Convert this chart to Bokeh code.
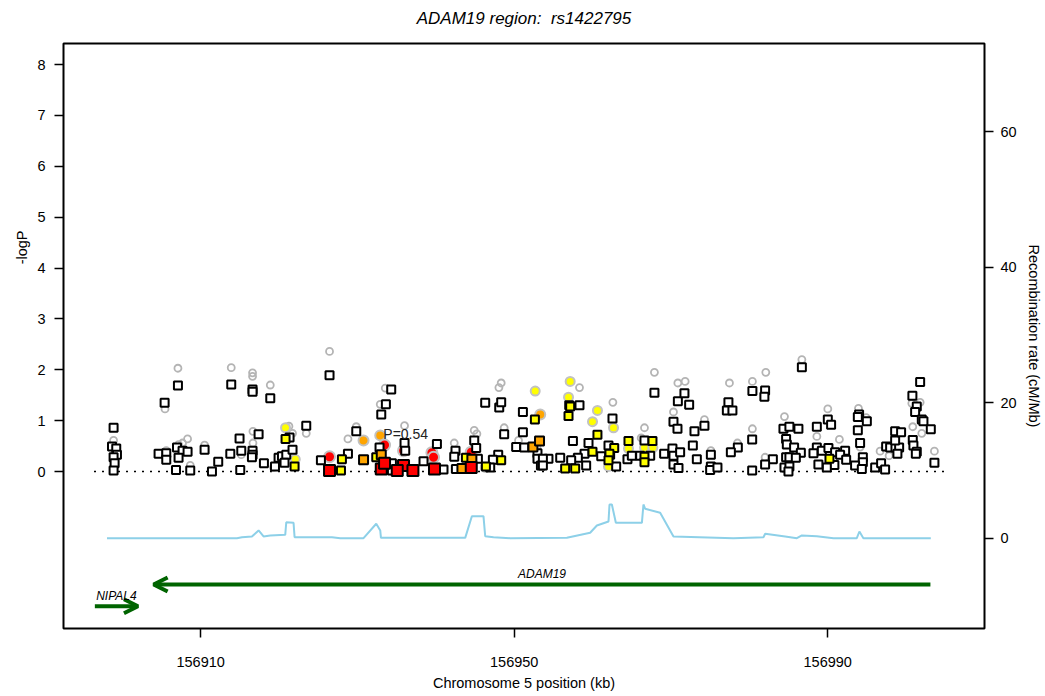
import math
from bokeh.plotting import figure
from bokeh.models import (Range1d, LinearAxis, FixedTicker, BasicTickFormatter,
                          Label, Arrow, OpenHead, Title)
from bokeh.embed import file_html
from bokeh.resources import INLINE

FONT = "Liberation Sans"

# ---------------- data ----------------
title_text = "ADAM19 region:\u00a0 rs1422795"
ref_snp_pos = 156933.3
ref_snp_p = 0.54

x_ticks = [156910, 156950, 156990]
y_ticks = [0, 1, 2, 3, 4, 5, 6, 7, 8]
recomb_ticks = [0, 20, 40, 60]

# SNPs of the second set (squares), by LD class
sq_white_pos = [
    156898.89, 156898.69, 156899.23, 156899.32, 156898.89, 156899.02, 156898.89, 156905.40, 156907.10, 156904.63,
    156905.61, 156905.61, 156906.98, 156907.69, 156908.33, 156907.18, 156906.85, 156908.67, 156910.50, 156912.24,
    156911.44, 156913.78, 156913.90, 156914.96, 156915.18, 156915.05, 156916.62, 156916.62, 156918.88, 156917.39,
    156916.62, 156916.62, 156916.54, 156918.07, 156919.48, 156919.94, 156920.37, 156920.92, 156921.72, 156921.34,
    156923.47, 156920.70,
    156926.44, 156934.31, 156933.63, 156933.04, 156929.85, 156925.34, 156928.79, 156932.82, 156936.01, 156936.10,
    156940.14, 156938.43, 156940.98, 156934.40, 156934.40, 156942.51, 156942.35, 156944.90, 156945.15, 156946.30,
    156948.09, 156948.34, 156948.72, 156947.96, 156947.28, 156945.37, 156946.94, 156951.11, 156951.11, 156950.25,
    156951.28, 156952.97, 156952.97, 156953.41, 156954.37, 156942.56,
    156957.02, 156958.33, 156962.54, 156957.49, 156959.48, 156958.97, 156958.12, 156955.87, 156953.66, 156953.66,
    156957.27, 156959.18, 156961.10, 156962.03, 156962.24, 156963.01, 156964.45, 156965.01, 156966.07, 156966.62,
    156967.35, 156967.89, 156969.13, 156970.19, 156970.32, 156971.17, 156970.32, 156970.96, 156970.32, 156970.83,
    156970.88, 156971.72, 156972.32, 156973.00, 156972.79, 156973.30, 156974.27, 156975.09, 156975.09, 156975.00,
    156975.93, 156977.33, 156977.13, 156977.84, 156978.53, 156977.64, 156980.39, 156982.01, 156981.92, 156980.36,
    156980.36, 156983.00, 156982.01, 156984.35, 156984.69, 156984.78, 156984.69, 156984.48,
    156986.70, 156985.11, 156986.26, 156985.71, 156986.57, 156985.11, 156985.93, 156985.11, 156984.99, 156988.61,
    156990.01, 156990.43, 156988.61, 156988.18, 156989.25, 156990.09, 156990.94, 156992.22, 156991.58, 156992.35,
    156990.85, 156989.88, 156988.81, 156994.00, 156993.84, 156994.99, 156993.84, 156994.13, 156994.48, 156994.48,
    156993.49, 156994.35, 156996.05, 156996.81, 156997.32, 156997.45, 156997.96, 156998.64, 156999.11, 156998.60,
    156998.60, 156999.36, 156998.89, 157000.80, 157001.36, 157001.15, 157001.79, 157002.00, 157002.21, 157003.15,
    157000.85, 157000.93, 157001.36, 157001.24, 157003.61]
sq_white_logp = [
    0.86, 0.49, 0.45, 0.33, 0.28, 0.16, 0.02, 1.35, 1.69, 0.35,
    0.36, 0.23, 0.47, 0.41, 0.39, 0.27, 0.03, 0.02, 0.43, 0.19,
    0.00, 0.35, 1.71, 0.65, 0.41, 0.03, 1.61, 1.57, 1.44, 0.73,
    0.41, 0.33, 0.28, 0.16, 0.10, 0.27, 0.30, 0.33, 0.43, 0.67,
    0.90, 0.17,
    1.89, 1.61, 1.32, 1.12, 0.79, 0.22, 0.35, 0.47, 0.56, 0.41,
    0.54, 0.20, 0.04, 0.16, 0.02, 0.41, 0.29, 0.61, 0.46, 1.35,
    1.26, 1.36, 0.73, 0.33, 0.23, 0.25, 0.08, 1.17, 0.77, 0.48,
    0.47, 0.36, 0.25, 0.12, 0.25, 0.05,
    1.30, 1.30, 1.04, 0.60, 0.56, 0.35, 0.27, 0.27, 0.25, 0.12,
    0.22, 0.12, 0.30, 0.51, 0.33, 0.10, 0.24, 0.31, 0.31, 0.61,
    0.31, 1.55, 0.35, 0.45, 0.31, 0.38, 0.14, 0.07, 0.98, 0.84,
    1.38, 1.54, 1.31, 0.79, 0.51, 0.24, 0.90, 0.33, 0.10, 0.03,
    0.08, 1.36, 1.20, 1.20, 0.47, 0.38, 1.58, 1.59, 1.47, 0.63,
    0.02, 0.24, 0.14, 0.84, 0.64, 0.53, 0.28, 0.08,
    2.05, 0.88, 0.84, 0.47, 0.37, 0.28, 0.27, 0.10, 0.00, 0.88,
    1.02, 0.92, 0.47, 0.36, 0.41, 0.46, 0.38, 0.41, 0.33, 0.23,
    0.13, 0.08, 0.14, 1.12, 1.07, 0.99, 0.81, 0.56, 0.28, 0.18,
    0.12, 0.05, 0.08, 0.16, 0.04, 0.49, 0.47, 0.47, 0.47, 0.61,
    0.79, 0.77, 0.35, 1.49, 1.28, 1.17, 1.76, 1.02, 0.99, 0.83,
    0.62, 0.51, 0.39, 0.35, 0.17]

sq_red_pos = [156926.44, 156933.04, 156933.46, 156935.88, 156937.08, 156939.83, 156944.52, 156935.08]
sq_red_logp = [0.02, 0.05, 0.16, 0.12, 0.02, 0.05, 0.08, 0.02]

sq_orange_pos = [156930.78, 156933.04, 156943.33, 156944.60, 156952.39, 156953.23]
sq_orange_logp = [0.23, 0.33, 0.06, 0.24, 0.48, 0.60]

sq_yellow_pos = [156920.83, 156921.98, 156928.02, 156927.90, 156932.40, 156943.84, 156946.39, 156948.34,
                 156952.64, 156957.14, 156956.93, 156960.62, 156959.99, 156962.76, 156962.15, 156964.58,
                 156967.64, 156966.62, 156966.62, 156956.50, 156957.78, 156962.03, 156990.22]
sq_yellow_logp = [0.64, 0.10, 0.24, 0.02, 0.28, 0.27, 0.10, 0.22,
                  1.02, 1.28, 1.09, 0.72, 0.39, 0.46, 0.35, 0.60,
                  0.60, 0.29, 0.18, 0.06, 0.06, 0.22, 0.25]

# SNPs of the first set (circles), by LD class
ci_gray_pos = [
    156898.89, 156907.10, 156905.45, 156913.90, 156916.62, 156916.62, 156918.88, 156908.33, 156907.69, 156907.18,
    156905.61, 156910.50, 156916.67, 156916.67, 156915.18, 156908.67, 156921.26, 156923.47, 156921.72, 156919.30,
    156926.44, 156928.79, 156929.85, 156933.55, 156932.91, 156936.01, 156942.35, 156944.90, 156945.24, 156948.34,
    156948.05, 156948.72, 156950.55, 156952.90, 156958.33, 156962.59, 156967.89, 156970.88, 156971.81, 156970.32,
    156974.27, 156977.46, 156980.39, 156982.10, 156980.39, 156984.48, 156966.62, 156975.09, 156978.48, 156982.01,
    156966.20, 156986.70, 156990.01, 156991.49, 156988.61, 156993.92, 156994.90, 156996.68, 156997.83, 157000.85,
    157002.00, 157001.79, 157000.73, 157003.61, 156994.13]
ci_gray_logp = [
    0.61, 2.03, 1.23, 2.04, 1.94, 1.87, 1.70, 0.64, 0.56, 0.53,
    0.41, 0.52, 0.79, 0.56, 0.33, 0.12, 0.89, 0.75, 0.75, 0.08,
    2.36, 0.64, 0.88, 1.64, 1.32, 0.90, 0.56, 0.81, 0.74, 1.74,
    1.65, 0.86, 0.61, 0.48, 1.65, 1.36, 1.95, 1.74, 1.77, 1.17,
    1.02, 1.74, 1.77, 1.95, 0.84, 1.08, 0.86, 0.41, 0.56, 0.28,
    0.66, 2.20, 1.23, 0.63, 0.69, 1.24, 1.06, 0.40, 0.31, 0.88,
    0.75, 1.36, 1.34, 0.40, 0.48]

ci_red_pos = [156926.44, 156933.46, 156935.88, 156939.50, 156939.71, 156944.52]
ci_red_logp = [0.29, 0.52, 0.41, 0.37, 0.28, 0.38]

ci_orange_pos = [156930.78, 156932.91, 156953.32]
ci_orange_logp = [0.61, 0.71, 1.12]

ci_yellow_pos = [156920.83, 156922.07, 156952.68, 156946.30, 156957.14, 156956.93, 156960.62, 156959.99,
                 156962.67, 156964.58, 156966.62, 156967.69, 156962.03]
ci_yellow_logp = [0.86, 0.24, 1.58, 0.08, 1.77, 1.46, 1.20, 0.98,
                  0.86, 0.45, 0.47, 0.47, 0.10]

# recombination rate (cM/Mb)
recomb_pos = [156898.05, 156914.63, 156915.27, 156916.54, 156917.39, 156918.02, 156918.88, 156920.79, 156920.92,
              156921.85, 156921.98, 156926.75, 156927.81, 156930.78, 156932.40, 156932.91, 156933.00, 156943.75,
              156944.60, 156946.08, 156946.30, 156947.36, 156949.49, 156956.72, 156959.69, 156960.55, 156962.03,
              156962.16, 156962.46, 156962.97, 156966.29, 156966.49, 156966.71, 156968.62, 156970.32, 156977.97,
              156981.80, 156982.02, 156984.57, 156986.06, 156986.70, 156988.61, 156990.73, 156993.71, 156994.04,
              156994.55, 157001.36, 157003.15]
recomb_rate = [0.0, 0.0, 0.15, 0.25, 1.15, 0.25, 0.4, 0.5, 2.35,
               2.27, 0.15, 0.15, 0.0, 0.0, 2.13, 1.15, 0.05, 0.05,
               3.25, 3.25, 0.3, 0.15, 0.0, 0.05, 0.8, 1.88, 2.47,
               4.98, 4.98, 2.27, 2.27, 4.98, 4.34, 3.75, 0.25, 0.0,
               0.15, 0.65, 0.25, 0.0, 0.4, 0.3, 0.0, 0.0, 0.99,
               0.0, 0.0, 0.0]

# genes
gene_names = ["ADAM19", "NIPAL4"]
gene_start = [156904.0, 156896.5]
gene_end = [157003.1, 156902.0]
gene_strand = ["-", "+"]
gene_row = [0, 1]

# ---------------- figure ----------------
p = figure(frame_width=921, frame_height=585,
           x_range=Range1d(156892.5, 157010.0), y_range=Range1d(-3.086, 8.413),
           output_backend="svg", toolbar_location=None,
           min_border_left=63, min_border_right=60, min_border_top=43, min_border_bottom=66,
           background_fill_color="white", border_fill_color="white")
p.extra_y_ranges = {"recomb": Range1d(-13.34, 73.07)}
p.xgrid.visible = False
p.ygrid.visible = False
p.outline_line_color = "black"
p.outline_line_width = 2
p.outline_line_alpha = 1.0

# spacer between frame and title, then the title itself
p.add_layout(Title(text=" ", text_font_size="10px", standoff=0), "above")
p.title.text = title_text
p.title.align = "center"
p.title.text_font = FONT
p.title.text_font_size = "17px"
p.title.text_font_style = "italic"
p.title.text_color = "black"
p.title.standoff = 6

p.xaxis.ticker = FixedTicker(ticks=x_ticks)
p.xaxis.formatter = BasicTickFormatter(use_scientific=False)
p.xaxis.axis_label = "Chromosome 5 position (kb)"
p.yaxis.ticker = FixedTicker(ticks=y_ticks)

raxis = LinearAxis(y_range_name="recomb", ticker=FixedTicker(ticks=recomb_ticks),
                   axis_label="Recombination rate (cM/Mb)")
p.add_layout(raxis, "right")

for ax in [p.xaxis[0], p.yaxis[0], raxis]:
    ax.axis_line_color = None
    ax.major_tick_line_color = "black"
    ax.major_tick_line_width = 1.5
    ax.major_tick_out = 9
    ax.major_tick_in = 0
    ax.minor_tick_line_color = None
    ax.major_label_text_font = FONT
    ax.major_label_text_font_size = "14.5px"
    ax.major_label_text_color = "black"
    ax.axis_label_text_font = FONT
    ax.axis_label_text_font_size = "14.5px"
    ax.axis_label_text_font_style = "normal"
    ax.axis_label_text_color = "black"
p.xaxis.major_label_standoff = 19
p.xaxis.axis_label_standoff = 5
p.yaxis.major_label_standoff = 9
raxis.major_label_standoff = 7
raxis.axis_label_standoff = 6

# left axis label, raised as in the original
p.add_layout(Title(text="-logP", align="right", offset=187, standoff=10,
                   text_font=FONT, text_font_size="14.5px", text_font_style="normal",
                   text_color="black"), "left")

# recombination rate line
p.line(recomb_pos, recomb_rate, y_range_name="recomb", line_color="#8dd0e8", line_width=2)

# zero line across the SNP span
all_pos = sq_white_pos + ci_gray_pos
p.line([min(all_pos) - 2.3, max(all_pos) + 1.8], [0, 0], line_color="black",
       line_width=1.6, line_dash="2 6")

# circles (first set)
p.scatter(ci_gray_pos, ci_gray_logp, marker="circle", size=7, fill_color=None,
          line_color="#b4b4b4", line_width=1.8)
p.scatter(ci_yellow_pos, ci_yellow_logp, marker="circle", size=9, fill_color="#ffff00",
          line_color="#c2c2c2", line_width=2)
p.scatter(ci_orange_pos, ci_orange_logp, marker="circle", size=10, fill_color="#ffa500",
          line_color="#c2c2c2", line_width=2)
p.scatter(ci_red_pos, ci_red_logp, marker="circle", size=11, fill_color="#ff0000",
          line_color="#c2c2c2", line_width=2)

# squares (second set)
p.scatter(sq_white_pos, sq_white_logp, marker="square", size=8, fill_color="white",
          line_color="black", line_width=2)
p.scatter(sq_yellow_pos, sq_yellow_logp, marker="square", size=8, fill_color="#ffff00",
          line_color="black", line_width=2)
p.scatter(sq_orange_pos, sq_orange_logp, marker="square", size=9, fill_color="#ffa500",
          line_color="black", line_width=2)
p.scatter(sq_red_pos, sq_red_logp, marker="square", size=11, fill_color="#ff0000",
          line_color="black", line_width=2)

# reference SNP p-value label
p.add_layout(Label(x=ref_snp_pos, y=-math.log10(ref_snp_p) + 0.46, text="P=" + str(ref_snp_p),
                   text_font=FONT, text_font_size="14px", text_align="left",
                   text_baseline="middle", text_color="#222222"))

# genes
GREEN = "#006400"
for name, s, e, strand, row in zip(gene_names, gene_start, gene_end, gene_strand, gene_row):
    y = -2.22 - 0.43 * row
    x0, x1 = (e, s) if strand == "-" else (s, e)
    p.add_layout(Arrow(end=OpenHead(size=14, line_width=4, line_color=GREEN),
                       x_start=x0, y_start=y, x_end=x1, y_end=y,
                       line_width=4, line_color=GREEN))
    p.add_layout(Label(x=(s + e) / 2, y=y + 0.21, text=name, text_font=FONT,
                       text_font_size="12px", text_font_style="italic",
                       text_align="center", text_baseline="middle", text_color="black"))

open("out.html", "w").write(file_html(p, INLINE))
